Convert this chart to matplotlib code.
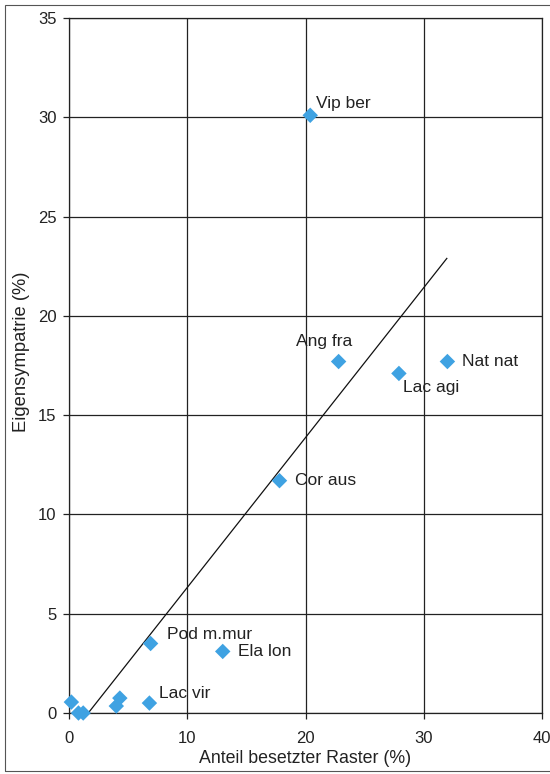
import matplotlib.pyplot as plt
from matplotlib.patches import Rectangle

plt.rcParams["font.family"] = ["Liberation Sans", "DejaVu Sans"]

# Species: share of occupied grid cells vs. own sympatry (both %)
species = ["Vip ber", "Ang fra", "Lac agi", "Nat nat", "Cor aus",
           "Pod m.mur", "Ela lon", "Lac vir"]
raster_pct = [20.4, 22.8, 27.9, 32.0, 17.8, 6.9, 13.0, 6.8]
sympatry_pct = [30.1, 17.7, 17.1, 17.7, 11.7, 3.5, 3.1, 0.5]

# unlabelled species near the origin
other_raster = [0.2, 0.8, 1.2, 4.0, 4.3]
other_sympatry = [0.55, 0.0, 0.0, 0.35, 0.75]

# linear trend
trend_slope = 0.755
trend_intercept = -1.23
trend_x = [1.63, 31.95]

# label offsets in pixels (dx, dy)
label_pos = {
    "Vip ber": (6, 12),
    "Ang fra": (-43, 20),
    "Lac agi": (4, -14),
    "Nat nat": (15, 0),
    "Cor aus": (16, 0),
    "Pod m.mur": (16, 9),
    "Ela lon": (15, 0),
    "Lac vir": (10, 10),
}

fig = plt.figure(figsize=(5.5, 7.74), dpi=100)
ax = fig.add_axes([69 / 550, 1 - 713 / 774, 473 / 550, 695 / 774])

blue = "#3fa2e2"
ax.scatter(raster_pct + other_raster, sympatry_pct + other_sympatry,
           marker="D", s=62, color=blue, edgecolors="none", zorder=3,
           clip_on=False)

ty = [trend_slope * x + trend_intercept for x in trend_x]
ax.plot(trend_x, ty, color="#111111", linewidth=0.9, zorder=2)

for name, x, y in zip(species, raster_pct, sympatry_pct):
    dx, dy = label_pos[name]
    ax.annotate(name, (x, y), xytext=(dx, dy), textcoords="offset pixels",
                ha="left", va="center", fontsize=12.5, color="#222222")

ax.set_xlim(0, 40)
ax.set_ylim(0, 35)
ax.set_xticks(range(0, 41, 10))
ax.set_yticks(range(0, 36, 5))
ax.grid(True, color="#222222", linewidth=0.9)
ax.set_axisbelow(True)
for sp in ax.spines.values():
    sp.set_color("#222222")
    sp.set_linewidth(0.9)

ax.tick_params(axis="y", direction="out", length=4, width=0.9,
               pad=5, labelsize=12, colors="#222222")
ax.tick_params(axis="x", direction="out", length=4, width=0.9,
               pad=9, labelsize=12, colors="#222222")

ax.set_xlabel("Anteil besetzter Raster (%)", fontsize=12.8, color="#222222",
              labelpad=3)
ax.set_ylabel("Eigensympatrie (%)", fontsize=13.2, color="#222222")
ax.yaxis.set_label_coords(-0.082, 0.52)

# thin frame round the figure
fig.patches.append(Rectangle((5 / 550, 3 / 774), 560 / 550, 766 / 774,
                             transform=fig.transFigure, fill=False,
                             edgecolor="#555555", linewidth=0.8))

fig.savefig("out.png", dpi=100)
